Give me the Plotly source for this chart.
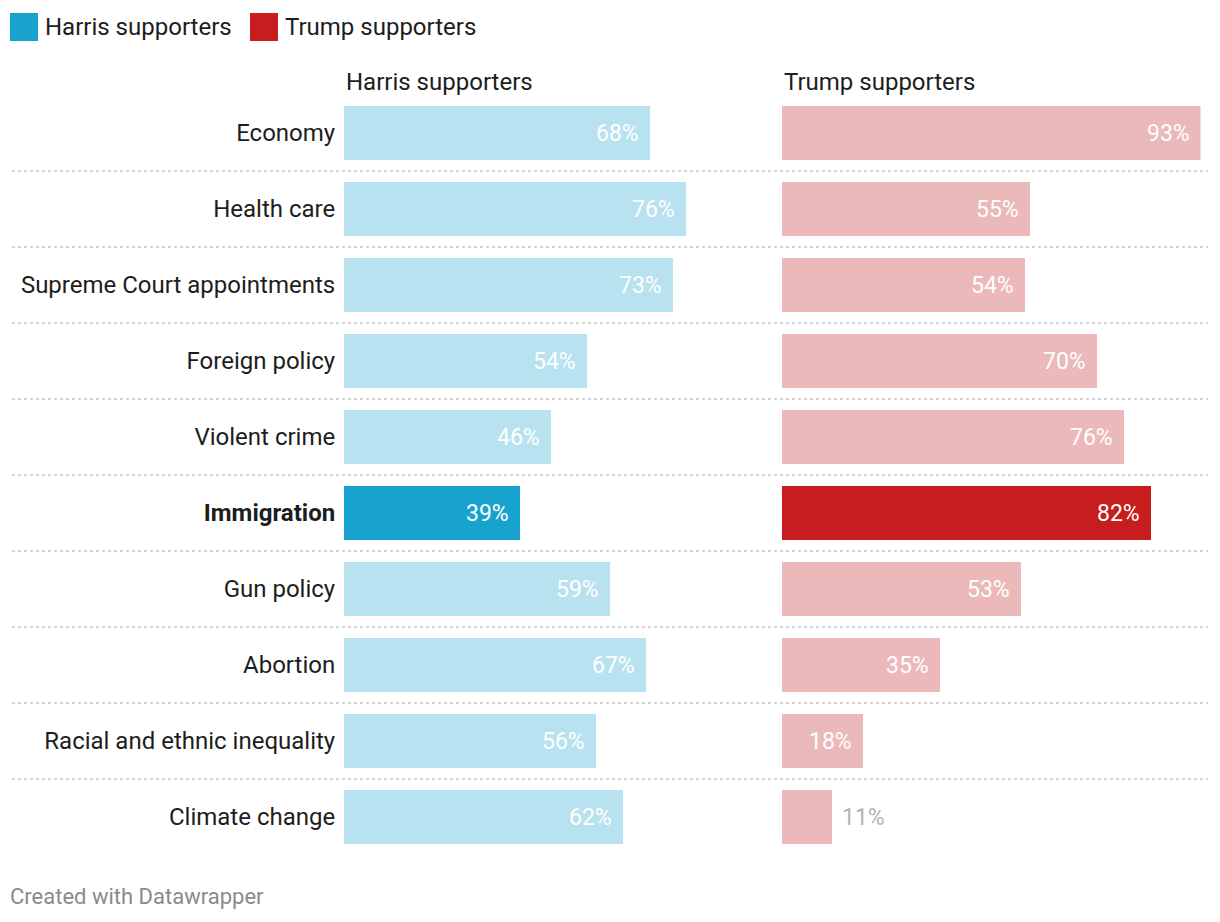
import plotly.graph_objects as go

categories = ["Economy", "Health care", "Supreme Court appointments", "Foreign policy",
              "Violent crime", "Immigration", "Gun policy", "Abortion",
              "Racial and ethnic inequality", "Climate change"]
harris = [68, 76, 73, 54, 46, 39, 59, 67, 56, 62]
trump = [93, 55, 54, 70, 76, 82, 53, 35, 18, 11]
highlight = "Immigration"
series_names = ["Harris supporters", "Trump supporters"]

W, H = 1220, 922
BLUE_L, BLUE_H = "#b8e2ef", "#18a3cf"
RED_L, RED_H = "#ebb9b9", "#c71d1e"
FONT = "Roboto"
TXT = "#1d1d1d"

ypos = list(range(len(categories)))
ticktext = [f"<b>{c}</b>" if c == highlight else c for c in categories]
row_px = 76
top_center = 133
y_top = -top_center / row_px
y_bot = (H - top_center) / row_px

fig = go.Figure()
for vals, light, hi, xa, ya in [(harris, BLUE_L, BLUE_H, "x", "y"), (trump, RED_L, RED_H, "x2", "y2")]:
    colors = [hi if c == highlight else light for c in categories]
    fig.add_trace(go.Bar(x=vals, y=ypos, orientation="h", marker=dict(color=colors, line=dict(width=0)),
                         width=54 / row_px, xaxis=xa, yaxis=ya, showlegend=False, hoverinfo="skip"))
    for v, yi in zip(vals, ypos):
        inside = v >= 15
        fig.add_annotation(x=v, y=yi, xref=xa, yref=ya, text=f"{v}%", showarrow=False,
                           xanchor="right" if inside else "left", xshift=-9 if inside else 8,
                           font=dict(family=FONT, size=23, color="white" if inside else "#b3b3b3"))

# legend (manual, Datawrapper style)
for (name, col, x0) in [(series_names[0], BLUE_H, 10), (series_names[1], RED_H, 250)]:
    fig.add_shape(type="rect", xref="paper", yref="paper", x0=x0 / W, x1=(x0 + 28) / W,
                  y0=1 - 41 / H, y1=1 - 13 / H, fillcolor=col, line=dict(width=0))
    fig.add_annotation(xref="paper", yref="paper", x=(x0 + 33) / W, y=1 - 27 / H, xanchor="left",
                       yanchor="middle", text=name, showarrow=False, font=dict(family=FONT, size=24, color=TXT))

# separators
for i in range(len(categories) - 1):
    fig.add_shape(type="line", xref="paper", yref="y", x0=12 / W, x1=1208 / W, y0=i + 0.5, y1=i + 0.5,
                  line=dict(color="#c8c8c8", width=1.5, dash="dot"), layer="below")

xmax = 93
fig.update_layout(
    width=W, height=H, margin=dict(l=0, r=0, t=0, b=0),
    paper_bgcolor="white", plot_bgcolor="white",
    font=dict(family=FONT, size=24, color=TXT),
    bargap=0, showlegend=False,
    xaxis=dict(domain=[344 / W, (344 + 4.5 * xmax) / W], range=[0, xmax], visible=False, fixedrange=True),
    xaxis2=dict(domain=[782 / W, (782 + 4.5 * xmax) / W], range=[0, xmax], visible=False, fixedrange=True),
    yaxis=dict(range=[y_bot, y_top], tickvals=ypos, ticktext=ticktext, showgrid=False, zeroline=False,
               showline=False, ticks="outside", ticklen=3, tickcolor="rgba(0,0,0,0)",
               tickfont=dict(family=FONT, size=24, color=TXT), fixedrange=True),
    yaxis2=dict(range=[y_bot, y_top], anchor="x2", matches="y", showticklabels=False, showgrid=False,
                zeroline=False, showline=False, fixedrange=True),
)

for xa, name in [("x", series_names[0]), ("x2", series_names[1])]:
    fig.add_annotation(xref=f"{xa} domain", yref="paper", x=0, y=1 - 82 / H, xanchor="left", yanchor="middle",
                       text=name, showarrow=False, font=dict(family=FONT, size=24, color=TXT))
fig.add_annotation(xref="paper", yref="paper", x=8 / W, y=1 - 896 / H, xanchor="left", yanchor="middle",
                   text="Created with Datawrapper", showarrow=False, font=dict(family=FONT, size=22, color="#8a8a8a"))

fig.write_html("out.html")
